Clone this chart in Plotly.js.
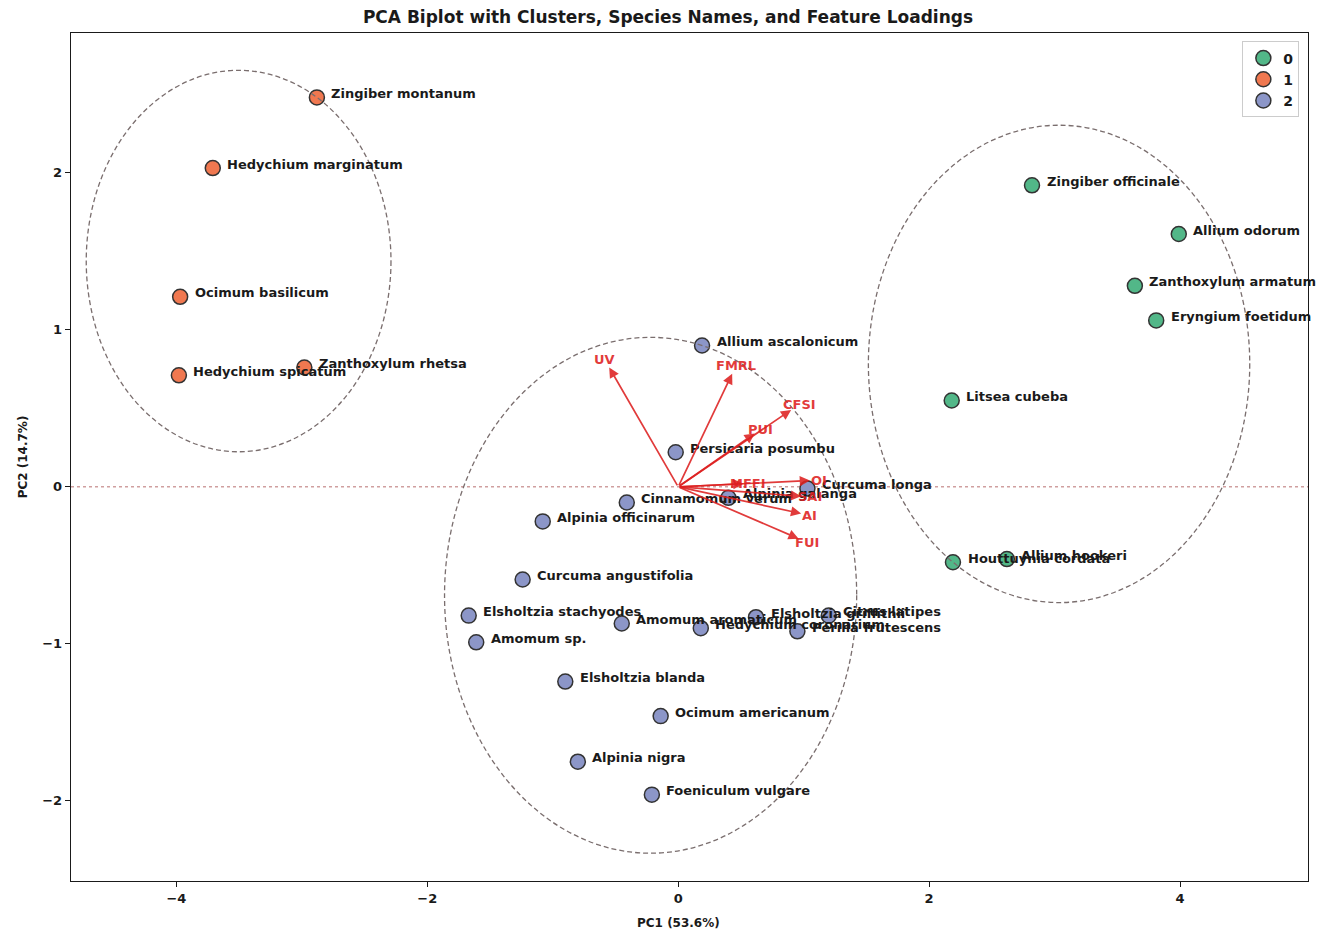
<!DOCTYPE html>
<html>
<head>
<meta charset="utf-8">
<script src="https://cdn.plot.ly/plotly-3.0.1.min.js"></script>
<style>html,body{margin:0;padding:0;background:#fff;}#chart{width:1328px;height:930px;}</style>
</head>
<body>
<div id="chart"></div>
<script>
// ---- Data ----
const cluster0Names = ["Zingiber officinale","Allium odorum","Zanthoxylum armatum","Eryngium foetidum","Litsea cubeba","Houttuynia cordata","Allium hookeri"];
const cluster0PC1 = [2.82, 3.99, 3.64, 3.81, 2.18, 2.19, 2.62];
const cluster0PC2 = [1.92, 1.61, 1.28, 1.06, 0.55, -0.48, -0.46];

const cluster1Names = ["Zingiber montanum","Hedychium marginatum","Ocimum basilicum","Hedychium spicatum","Zanthoxylum rhetsa"];
const cluster1PC1 = [-2.88, -3.71, -3.97, -3.98, -2.98];
const cluster1PC2 = [2.48, 2.03, 1.21, 0.71, 0.76];

const cluster2Names = ["Allium ascalonicum","Persicaria posumbu","Curcuma longa","Alpinia galanga","Cinnamomum verum","Alpinia officinarum","Curcuma angustifolia","Elsholtzia stachyodes","Amomum sp.","Amomum aromaticum","Hedychium coronarium","Elsholtzia griffithii","Perilla frutescens","Citrus latipes","Elsholtzia blanda","Ocimum americanum","Alpinia nigra","Foeniculum vulgare"];
const cluster2PC1 = [0.19, -0.02, 1.03, 0.40, -0.41, -1.08, -1.24, -1.67, -1.61, -0.45, 0.18, 0.62, 0.95, 1.20, -0.90, -0.14, -0.80, -0.21];
const cluster2PC2 = [0.90, 0.22, -0.01, -0.07, -0.10, -0.22, -0.59, -0.82, -0.99, -0.87, -0.90, -0.83, -0.92, -0.82, -1.24, -1.46, -1.75, -1.96];

const featureNames = ["UV","FMRL","CFSI","PUI","MFFI","OI","SAI","AI","FUI"];
const loadingPC1 = [-0.55, 0.43, 0.90, 0.61, 0.52, 1.05, 0.98, 0.98, 0.96];
const loadingPC2 = [0.76, 0.72, 0.49, 0.34, 0.02, 0.04, -0.06, -0.17, -0.33];

const clusterLabels = ["0","1","2"];
const xTicks = [-4, -2, 0, 2, 4];
const yTicks = [-2, -1, 0, 1, 2];

// ---- Styles ----
const clusterColors = ["#52b788", "#f07850", "#8c96c8"];
const FONT = "DejaVu Sans, sans-serif";
const INK = "#1a1a1a";
const RED = "rgba(222,32,32,0.88)";
const clusters = [
  {names: cluster0Names, x: cluster0PC1, y: cluster0PC2},
  {names: cluster1Names, x: cluster1PC1, y: cluster1PC2},
  {names: cluster2Names, x: cluster2PC1, y: cluster2PC2}
];

const traces = clusters.map((c, i) => ({
  type: "scatter", mode: "markers", name: clusterLabels[i],
  x: c.x, y: c.y, text: c.names,
  marker: {size: 15, color: clusterColors[i], line: {color: "#333333", width: 1.5}},
  hoverinfo: "text+x+y"
}));

const annotations = [];
const shapes = [];

// zero line
shapes.push({type: "line", xref: "paper", x0: 0, x1: 1, yref: "y", y0: 0, y1: 0,
  line: {color: "#b06060", width: 0.9, dash: "dot"}, layer: "below"});

// cluster circles: centre = cluster mean, radius = farthest member
clusters.forEach(c => {
  const n = c.x.length;
  const cx = c.x.reduce((a, b) => a + b, 0) / n;
  const cy = c.y.reduce((a, b) => a + b, 0) / n;
  let r = 0;
  for (let k = 0; k < n; k++) r = Math.max(r, Math.hypot(c.x[k] - cx, c.y[k] - cy));
  shapes.push({type: "circle", xref: "x", yref: "y", x0: cx - r, x1: cx + r, y0: cy - r, y1: cy + r,
    line: {color: "#7a6e6e", width: 1.3, dash: "5px,3px"}, layer: "above"});
});

// species labels
clusters.forEach(c => {
  c.names.forEach((nm, k) => {
    annotations.push({x: c.x[k] + 0.1, y: c.y[k], xref: "x", yref: "y", text: nm,
      showarrow: false, xanchor: "left", yanchor: "middle", yshift: 4,
      font: {family: FONT, size: 13, weight: "bold", color: INK}});
  });
});

// loading arrows + labels
featureNames.forEach((f, k) => {
  annotations.push({x: loadingPC1[k], y: loadingPC2[k], xref: "x", yref: "y",
    ax: 0, ay: 0, axref: "x", ayref: "y", text: "", showarrow: true,
    arrowhead: 2, arrowsize: 1.2, arrowwidth: 1.7, arrowcolor: RED, standoff: 0});
  annotations.push({x: loadingPC1[k] * 1.07, y: loadingPC2[k] * 1.07, xref: "x", yref: "y",
    text: f, showarrow: false, xanchor: "center", yanchor: "middle",
    font: {family: FONT, size: 13, weight: "bold", color: RED}});
});

// x-axis title
annotations.push({xref: "paper", yref: "paper", x: 0.491, y: 0, yshift: -33, xanchor: "center", yanchor: "top",
  text: "PC1 (53.6%)", showarrow: false, font: {family: FONT, size: 12, weight: "bold", color: INK}});

const layout = {
  width: 1328, height: 930,
  margin: {l: 71, r: 20, t: 33, b: 49},
  paper_bgcolor: "#ffffff", plot_bgcolor: "#ffffff",
  font: {family: FONT, color: INK},
  title: {text: "PCA Biplot with Clusters, Species Names, and Feature Loadings",
    x: 0.503, xanchor: "center", y: 0.9817, yanchor: "middle",
    font: {family: FONT, size: 17, weight: "bold", color: INK}},
  xaxis: {range: [-4.84, 5.02], tickvals: xTicks, ticktext: xTicks.map(v => v < 0 ? "\u2212" + Math.abs(v) : String(v)),
    showgrid: false, zeroline: false, showline: true, mirror: true, linecolor: INK, linewidth: 1.3,
    ticks: "outside", ticklen: 5, tickcolor: INK, tickfont: {family: FONT, size: 13, weight: "bold", color: INK}},
  yaxis: {range: [-2.51, 2.89], tickvals: yTicks, ticktext: yTicks.map(v => v < 0 ? "\u2212" + Math.abs(v) : String(v)),
    showgrid: false, zeroline: false, showline: true, mirror: true, linecolor: INK, linewidth: 1.3,
    ticks: "outside", ticklen: 5, tickcolor: INK, tickfont: {family: FONT, size: 13, weight: "bold", color: INK},
    title: {text: "PC2 (14.7%)", standoff: 12, font: {family: FONT, size: 12, weight: "bold", color: INK}}},
  legend: {x: 0.993, y: 0.99, xanchor: "right", yanchor: "top", bgcolor: "rgba(255,255,255,0.9)",
    bordercolor: "#cccccc", borderwidth: 1, font: {family: FONT, size: 14, weight: "bold", color: INK}},
  shapes: shapes,
  annotations: annotations,
  showlegend: true
};

Plotly.newPlot("chart", traces, layout, {displayModeBar: false, staticPlot: true});
</script>
</body>
</html>
